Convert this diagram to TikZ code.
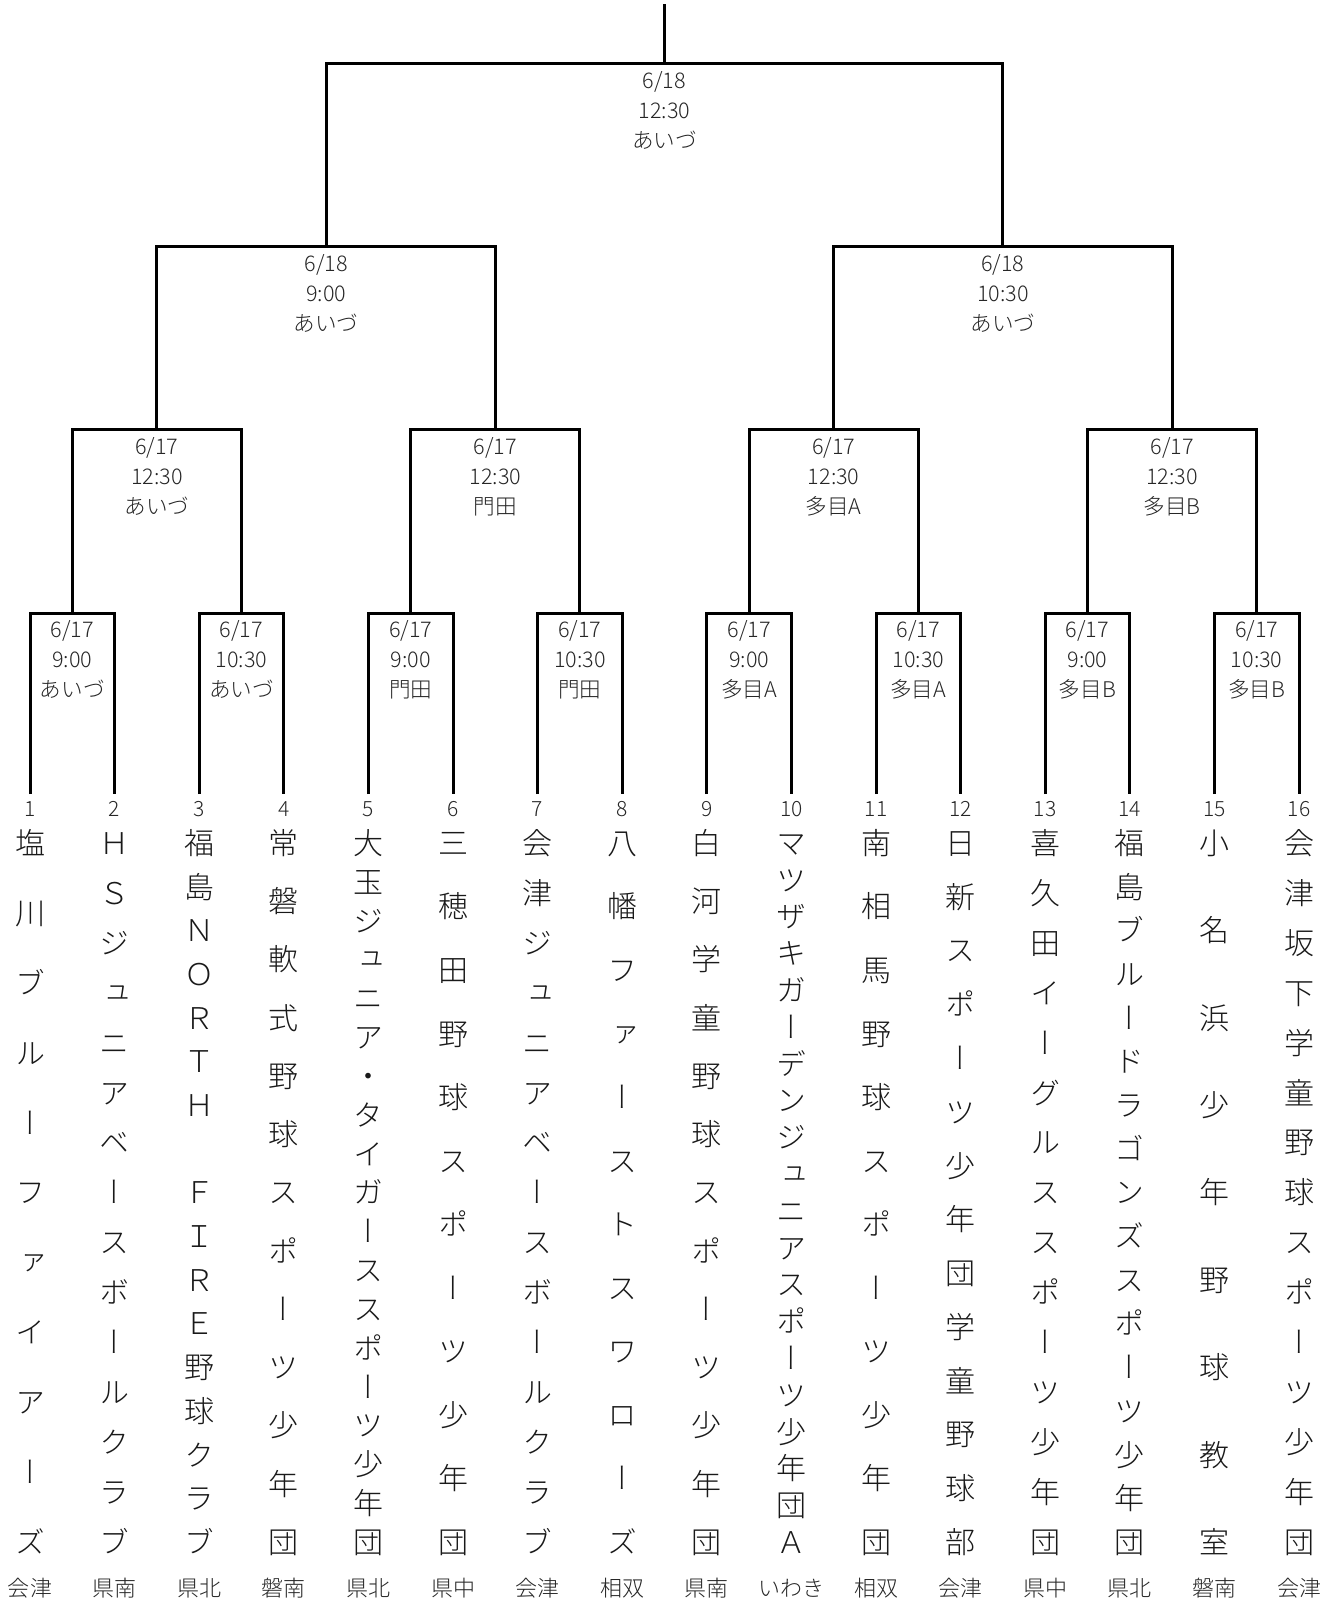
\documentclass[tikz,border=0pt]{standalone}
\usepackage{fontspec}
\setmainfont{Noto Sans CJK JP Light}
\newfontfamily\jpv[RawFeature=+vert]{Noto Sans CJK JP Light}
\newcommand\teamcol[3]{%
  \foreach \c [count=\k] in {#3} {\xdef\nch{\k}}%
  \foreach \c [count=\k] in {#3} {%
    \pgfmathsetmacro\yy{843+(\k-1)*699/(\nch-1)}%
    \node[tchar] (t#1c\k) at (#2,\yy) {\c};%
  }%
}
\begin{document}
\begin{tikzpicture}[x=0.5pt,y=-0.5pt]
\tikzset{
 bracket/.style={line width=1.5pt, line join=miter, draw=black},
 tchar/.style={font=\jpv\fontsize{15pt}{15pt}\selectfont, inner sep=0pt, text height=13.2pt, text depth=1.8pt, text=black!90},
 seed/.style={font=\fontsize{10.5pt}{12pt}\selectfont, inner sep=0pt, text=black!85},
 region/.style={font=\fontsize{11pt}{12pt}\selectfont, inner sep=0pt, text=black!85},
 matchlbl/.style={font=\fontsize{10.8pt}{15pt}\selectfont, align=center, anchor=north, inner sep=0pt, yshift=-3.5pt, text=black!85},
}
\useasboundingbox (0,0) rectangle (1337,1604);
% leaf coordinates, seeds, regions
\foreach \i/\xx/\rg in {1/30/会津,2/114.6/県南,3/199.2/県北,4/283.8/磐南,5/368.4/県北,6/453/県中,7/537.6/会津,8/622.2/相双,9/706.8/県南,10/791.4/いわき,11/876/相双,12/960.6/会津,13/1045.2/県中,14/1129.8/県北,15/1214.4/磐南,16/1299/会津}{
  \coordinate (L\i) at (\xx,794);
  \node[seed] (n\i) at (\xx,809) {\i};
  \node[region] (r\i) at (\xx,1588) {\rg};
}
% match points
\foreach \j/\xx in {1/72.3,2/241.5,3/410.7,4/579.9,5/749.1,6/918.3,7/1087.5,8/1256.7}
  \coordinate (a\j) at (\xx,613);
\foreach \j/\xx in {1/156.9,2/495.3,3/833.7,4/1172.1}
  \coordinate (b\j) at (\xx,430);
\coordinate (c1) at (326.1,247);
\coordinate (c2) at (1002.9,247);
\coordinate (f) at (664.5,64);
\coordinate (top) at (664.5,4);
% bracket lines
\draw[bracket] (L1) |- (a1) -| (L2);
\draw[bracket] (L3) |- (a2) -| (L4);
\draw[bracket] (L5) |- (a3) -| (L6);
\draw[bracket] (L7) |- (a4) -| (L8);
\draw[bracket] (L9) |- (a5) -| (L10);
\draw[bracket] (L11) |- (a6) -| (L12);
\draw[bracket] (L13) |- (a7) -| (L14);
\draw[bracket] (L15) |- (a8) -| (L16);
\draw[bracket] (a1) |- (b1) -| (a2);
\draw[bracket] (a3) |- (b2) -| (a4);
\draw[bracket] (a5) |- (b3) -| (a6);
\draw[bracket] (a7) |- (b4) -| (a8);
\draw[bracket] (b1) |- (c1) -| (b2);
\draw[bracket] (b3) |- (c2) -| (b4);
\draw[bracket] (c1) |- (f) -| (c2);
\draw[bracket] (f) -- (top);
% match labels
\node[matchlbl] (ma1) at (a1) {6/17\\9:00\\あいづ};
\node[matchlbl] (ma2) at (a2) {6/17\\10:30\\あいづ};
\node[matchlbl] (ma3) at (a3) {6/17\\9:00\\門田};
\node[matchlbl] (ma4) at (a4) {6/17\\10:30\\門田};
\node[matchlbl] (ma5) at (a5) {6/17\\9:00\\多目A};
\node[matchlbl] (ma6) at (a6) {6/17\\10:30\\多目A};
\node[matchlbl] (ma7) at (a7) {6/17\\9:00\\多目B};
\node[matchlbl] (ma8) at (a8) {6/17\\10:30\\多目B};
\node[matchlbl] (mb1) at (b1) {6/17\\12:30\\あいづ};
\node[matchlbl] (mb2) at (b2) {6/17\\12:30\\門田};
\node[matchlbl] (mb3) at (b3) {6/17\\12:30\\多目A};
\node[matchlbl] (mb4) at (b4) {6/17\\12:30\\多目B};
\node[matchlbl] (mc1) at (c1) {6/18\\9:00\\あいづ};
\node[matchlbl] (mc2) at (c2) {6/18\\10:30\\あいづ};
\node[matchlbl] (mf) at (f) {6/18\\12:30\\あいづ};
% team names (vertical)
\teamcol{1}{30}{塩,川,ブ,ル,ー,フ,ァ,イ,ア,ー,ズ}
\teamcol{2}{114.6}{Ｈ,Ｓ,ジ,ュ,ニ,ア,ベ,ー,ス,ボ,ー,ル,ク,ラ,ブ}
\teamcol{3}{199.2}{福,島,Ｎ,Ｏ,Ｒ,Ｔ,Ｈ,{},Ｆ,Ｉ,Ｒ,Ｅ,野,球,ク,ラ,ブ}
\teamcol{4}{283.8}{常,磐,軟,式,野,球,ス,ポ,ー,ツ,少,年,団}
\teamcol{5}{368.4}{大,玉,ジ,ュ,ニ,ア,・,タ,イ,ガ,ー,ス,ス,ポ,ー,ツ,少,年,団}
\teamcol{6}{453}{三,穂,田,野,球,ス,ポ,ー,ツ,少,年,団}
\teamcol{7}{537.6}{会,津,ジ,ュ,ニ,ア,ベ,ー,ス,ボ,ー,ル,ク,ラ,ブ}
\teamcol{8}{622.2}{八,幡,フ,ァ,ー,ス,ト,ス,ワ,ロ,ー,ズ}
\teamcol{9}{706.8}{白,河,学,童,野,球,ス,ポ,ー,ツ,少,年,団}
\teamcol{10}{791.4}{マ,ツ,ザ,キ,ガ,ー,デ,ン,ジ,ュ,ニ,ア,ス,ポ,ー,ツ,少,年,団,Ａ}
\teamcol{11}{876}{南,相,馬,野,球,ス,ポ,ー,ツ,少,年,団}
\teamcol{12}{960.6}{日,新,ス,ポ,ー,ツ,少,年,団,学,童,野,球,部}
\teamcol{13}{1045.2}{喜,久,田,イ,ー,グ,ル,ス,ス,ポ,ー,ツ,少,年,団}
\teamcol{14}{1129.8}{福,島,ブ,ル,ー,ド,ラ,ゴ,ン,ズ,ス,ポ,ー,ツ,少,年,団}
\teamcol{15}{1214.4}{小,名,浜,少,年,野,球,教,室}
\teamcol{16}{1299}{会,津,坂,下,学,童,野,球,ス,ポ,ー,ツ,少,年,団}
\end{tikzpicture}
\end{document}
